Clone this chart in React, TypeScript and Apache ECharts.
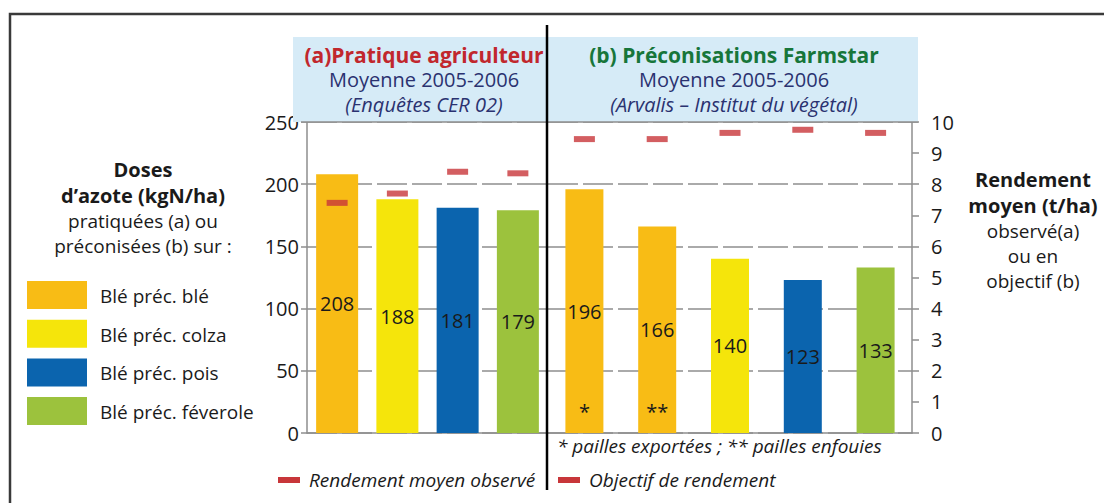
import React, { useEffect, useRef } from 'react';
import * as echarts from 'echarts';

// ---- data ----
const cropNames = ['Blé préc. blé', 'Blé préc. colza', 'Blé préc. pois', 'Blé préc. féverole'];
const cropColors = ['#F8BC15', '#F5E50B', '#0B64AE', '#9CC23D'];

// (a) Pratique agriculteur
const categoriesA = ['Blé préc. blé', 'Blé préc. colza', 'Blé préc. pois', 'Blé préc. féverole'];
const cropIndexA = [0, 1, 2, 3];
const dosesA = [208, 188, 181, 179];
const yieldA = [7.4, 7.7, 8.4, 8.35];

// (b) Préconisations Farmstar
const categoriesB = ['Blé préc. blé *', 'Blé préc. blé **', 'Blé préc. colza', 'Blé préc. pois', 'Blé préc. féverole'];
const cropIndexB = [0, 0, 1, 2, 3];
const dosesB = [196, 166, 140, 123, 133];
const yieldB = [9.45, 9.45, 9.65, 9.75, 9.65];
const notesB = ['*', '**', '', '', ''];

const doseMin = 0, doseMax = 250, doseStep = 50;
const yieldMin = 0, yieldMax = 10, yieldStep = 1;

const headerA = ['(a)Pratique agriculteur', 'Moyenne 2005-2006', '(Enquêtes CER 02)'];
const headerB = ['(b) Préconisations Farmstar', 'Moyenne 2005-2006', '(Arvalis – Institut du végétal)'];
const leftTitleBold = ['Doses', 'd’azote (kgN/ha)'];
const leftTitleReg = ['pratiquées (a) ou', 'préconisées (b) sur :'];
const rightTitleBold = ['Rendement', 'moyen (t/ha)'];
const rightTitleReg = ['observé(a)', 'ou en', 'objectif (b)'];
const footnote = '* pailles exportées ; ** pailles enfouies';
const yieldLegend = ['Rendement moyen observé', 'Objectif de rendement'];

const FONT = '"Open Sans", "Noto Sans", sans-serif';
const RED = '#C8363A';
const NAVY = '#2A3270';
const GRID_GRAY = '#8e8e8e';

export default function App() {
  const ref = useRef<HTMLDivElement>(null);
  useEffect(() => {
    if (!ref.current) return;
    const chart = echarts.init(ref.current, undefined, { renderer: 'svg' });

    const txt = (text: string, x: number, y: number, o: any = {}) => ({
      type: 'text',
      z: 50,
      style: {
        text, x, y,
        fontFamily: FONT,
        fontSize: o.fontSize ?? 19,
        fontWeight: o.fontWeight ?? 'normal',
        fontStyle: o.fontStyle ?? 'normal',
        fill: o.fill ?? '#1a1a1a',
        align: o.align ?? 'center',
        verticalAlign: 'middle',
      },
    });

    const block = (lines: [string, string][], x: number, y: number, rich: any) => ({
      type: 'text',
      z: 50,
      style: {
        text: lines.map(([k, t]) => `{${k}|${t}}`).join('\n'),
        x, y,
        align: 'center',
        verticalAlign: 'middle',
        fontFamily: FONT,
        rich,
      },
    });

    const rs = (o: any) => ({ fontFamily: FONT, align: 'center', ...o });

    const headerRich = (titleColor: string) => ({
      t: rs({ fontSize: 21, fontWeight: 'bold', fill: titleColor, lineHeight: 25 }),
      m: rs({ fontSize: 20, fill: NAVY, lineHeight: 25 }),
      i: rs({ fontSize: 20, fontStyle: 'italic', fill: NAVY, lineHeight: 24 }),
    });
    const titleRich = {
      b: rs({ fontSize: 20, fontWeight: 'bold', fill: '#1a1a1a', lineHeight: 26 }),
      r: rs({ fontSize: 19, fill: '#1a1a1a', lineHeight: 25 }),
    };

    const graphic: any[] = [
      { type: 'rect', z: 0, shape: { x: 10, y: 14, width: 1200, height: 600 }, style: { fill: 'none', stroke: '#3a3a3a', lineWidth: 2.5 } },
      { type: 'rect', z: 1, shape: { x: 293, y: 37, width: 625, height: 85 }, style: { fill: '#D6EBF7' } },
      { type: 'line', z: 40, shape: { x1: 301, y1: 122, x2: 918, y2: 122 }, style: { stroke: GRID_GRAY, lineWidth: 1.5 } },
      { type: 'line', z: 100, shape: { x1: 547, y1: 25, x2: 547, y2: 490 }, style: { stroke: '#000', lineWidth: 2.5 } },
      block([['t', headerA[0]], ['m', headerA[1]], ['i', headerA[2]]], 424, 79, headerRich('#C1272D')),
      block([['t', headerB[0]], ['m', headerB[1]], ['i', headerB[2]]], 734, 79, headerRich('#17763A')),
      block([...leftTitleBold.map((t) => ['b', t] as [string, string]), ...leftTitleReg.map((t) => ['r', t] as [string, string])], 143, 207, titleRich),
      block([...rightTitleBold.map((t) => ['b', t] as [string, string]), ...rightTitleReg.map((t) => ['r', t] as [string, string])], 1033, 230, titleRich),
      ...cropNames.flatMap((name, i) => [
        { type: 'rect', z: 20, shape: { x: 27, y: 281 + i * 38.7, width: 60, height: 28 }, style: { fill: cropColors[i] } },
        txt(name, 100, 296 + i * 38.7, { align: 'left' }),
      ]),
      txt(footnote, 557, 446, { align: 'left', fontStyle: 'italic' }),
      { type: 'rect', z: 20, shape: { x: 278, y: 477, width: 22, height: 6 }, style: { fill: RED } },
      txt(yieldLegend[0], 309, 480, { align: 'left', fontStyle: 'italic' }),
      { type: 'rect', z: 20, shape: { x: 558, y: 477, width: 22, height: 6 }, style: { fill: RED } },
      txt(yieldLegend[1], 589, 480, { align: 'left', fontStyle: 'italic' }),
    ];

    const axisLine = { show: true, lineStyle: { color: GRID_GRAY, width: 1.5 } };
    const splitLine = { show: true, lineStyle: { color: GRID_GRAY, width: 1.5, type: [30, 5] } };
    const axisLabel = { color: '#1a1a1a', fontSize: 20, fontFamily: FONT };

    const barLabel = { show: true, position: 'inside', color: '#1a1a1a', fontSize: 20, fontFamily: FONT };

    chart.setOption({
      animation: false,
      graphic,
      grid: [
        { left: 307, width: 241, top: 122, height: 311 },
        { left: 548, width: 364, top: 122, height: 311 },
      ],
      xAxis: [
        { gridIndex: 0, type: 'category', data: categoriesA, axisLine, axisTick: { show: false }, axisLabel: { show: false } },
        { gridIndex: 1, type: 'category', data: categoriesB, axisLine, axisTick: { show: false }, axisLabel: { show: false } },
      ],
      yAxis: [
        {
          gridIndex: 0, type: 'value', position: 'left', min: doseMin, max: doseMax, interval: doseStep,
          axisLine, axisTick: { show: true, length: 6, lineStyle: { color: GRID_GRAY, width: 1.5 } },
          axisLabel: { ...axisLabel, margin: 8 }, splitLine,
        },
        { gridIndex: 0, type: 'value', position: 'right', min: yieldMin, max: yieldMax, interval: yieldStep, show: false },
        {
          gridIndex: 1, type: 'value', position: 'left', min: doseMin, max: doseMax, interval: doseStep,
          axisLine: { show: false }, axisTick: { show: false }, axisLabel: { show: false }, splitLine,
        },
        {
          gridIndex: 1, type: 'value', position: 'right', min: yieldMin, max: yieldMax, interval: yieldStep,
          axisLine, axisTick: { show: true, length: 7, lineStyle: { color: GRID_GRAY, width: 1.5 } },
          axisLabel: { ...axisLabel, margin: 19 }, splitLine: { show: false },
        },
      ],
      series: [
        {
          type: 'bar', xAxisIndex: 0, yAxisIndex: 0, barWidth: 42,
          data: dosesA.map((v, i) => ({ value: v, itemStyle: { color: cropColors[cropIndexA[i]] } })),
          label: barLabel,
        },
        {
          type: 'scatter', xAxisIndex: 0, yAxisIndex: 1, symbol: 'rect', symbolSize: [21, 6], z: 5,
          itemStyle: { color: RED }, data: yieldA,
        },
        {
          type: 'bar', xAxisIndex: 1, yAxisIndex: 2, barWidth: 38,
          data: dosesB.map((v, i) => ({ value: v, itemStyle: { color: cropColors[cropIndexB[i]] } })),
          label: barLabel,
        },
        {
          type: 'bar', xAxisIndex: 1, yAxisIndex: 2, barWidth: 38, barGap: '-100%',
          itemStyle: { color: 'rgba(0,0,0,0)' }, data: dosesB,
          label: {
            show: true, position: 'insideBottom', distance: 12, color: '#1a1a1a', fontSize: 20, fontFamily: FONT,
            formatter: (p: any) => notesB[p.dataIndex],
          },
        },
        {
          type: 'scatter', xAxisIndex: 1, yAxisIndex: 3, symbol: 'rect', symbolSize: [21, 6], z: 5,
          itemStyle: { color: RED }, data: yieldB,
        },
      ],
    });
    return () => chart.dispose();
  }, []);
  return <div ref={ref} style={{ position: 'absolute', left: 0, top: 0, width: 1104, height: 503, background: '#fff' }} />;
}
